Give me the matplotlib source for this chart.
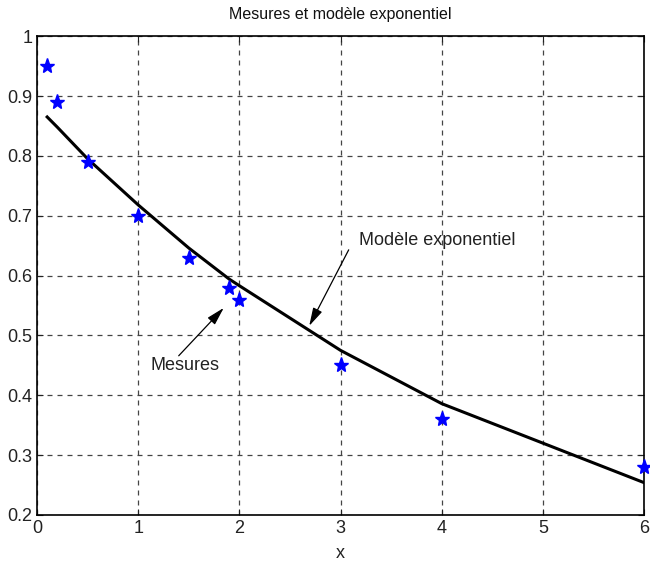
import matplotlib
matplotlib.use("Agg")
import matplotlib.pyplot as plt

x_meas = [0.1, 0.2, 0.5, 1.0, 1.5, 1.9, 2.0, 3.0, 4.0, 6.0]
y_meas = [0.95, 0.89, 0.79, 0.70, 0.63, 0.58, 0.56, 0.45, 0.36, 0.28]
y_model = [0.865, 0.848, 0.795, 0.718, 0.646, 0.594, 0.583, 0.475, 0.386, 0.254]

title = "Mesures et modèle exponentiel"
xlabel = "x"
xticks = [0, 1, 2, 3, 4, 5, 6]
yticks = [0.2, 0.3, 0.4, 0.5, 0.6, 0.7, 0.8, 0.9, 1.0]
ytick_labels = ["0.2", "0.3", "0.4", "0.5", "0.6", "0.7", "0.8", "0.9", "1"]

plt.rcParams['font.family'] = ['Liberation Sans', 'DejaVu Sans']

fig = plt.figure(figsize=(6.5, 5.65), dpi=100)
ax = fig.add_axes([0.057, 0.0885, 0.934, 0.8475])

ax.plot(x_meas, y_model, color='black', lw=2.2, zorder=3)
ax.plot(x_meas, y_meas, linestyle='none', marker='*', markersize=11,
        markerfacecolor='#0000ff', markeredgecolor='#0000ff', zorder=4, clip_on=False)

ax.set_xlim(0, 6)
ax.set_ylim(0.2, 1.0)
ax.set_xticks(xticks)
ax.set_xticklabels([str(t) for t in xticks])
ax.set_yticks(yticks)
ax.set_yticklabels(ytick_labels)
ax.grid(True, linestyle=(0, (4, 4)), color='#444444', lw=0.9)
ax.tick_params(direction='in', top=True, right=True, labelsize=13, colors='#222222',
               length=4, pad=3.5)
for s in ax.spines.values():
    s.set_linewidth(1.2)
    s.set_color('black')

ax.set_title(title, fontsize=11.5, pad=12, color='#111111')
ax.set_xlabel(xlabel, fontsize=13, labelpad=6, color='#222222')

arrowprops = dict(arrowstyle='-|>,head_length=1.1,head_width=0.3', color='black', lw=0.9,
                  shrinkA=0, shrinkB=0)
ax.annotate("", xy=(2.69, 0.516), xytext=(3.08, 0.643), arrowprops=arrowprops)
ax.text(3.18, 0.658, "Modèle exponentiel", fontsize=13, va='center', ha='left', color='#222222')
ax.annotate("", xy=(1.845, 0.546), xytext=(1.40, 0.466), arrowprops=arrowprops)
ax.text(1.12, 0.449, "Mesures", fontsize=13, va='center', ha='left', color='#222222')

fig.savefig("out.png", dpi=100)
